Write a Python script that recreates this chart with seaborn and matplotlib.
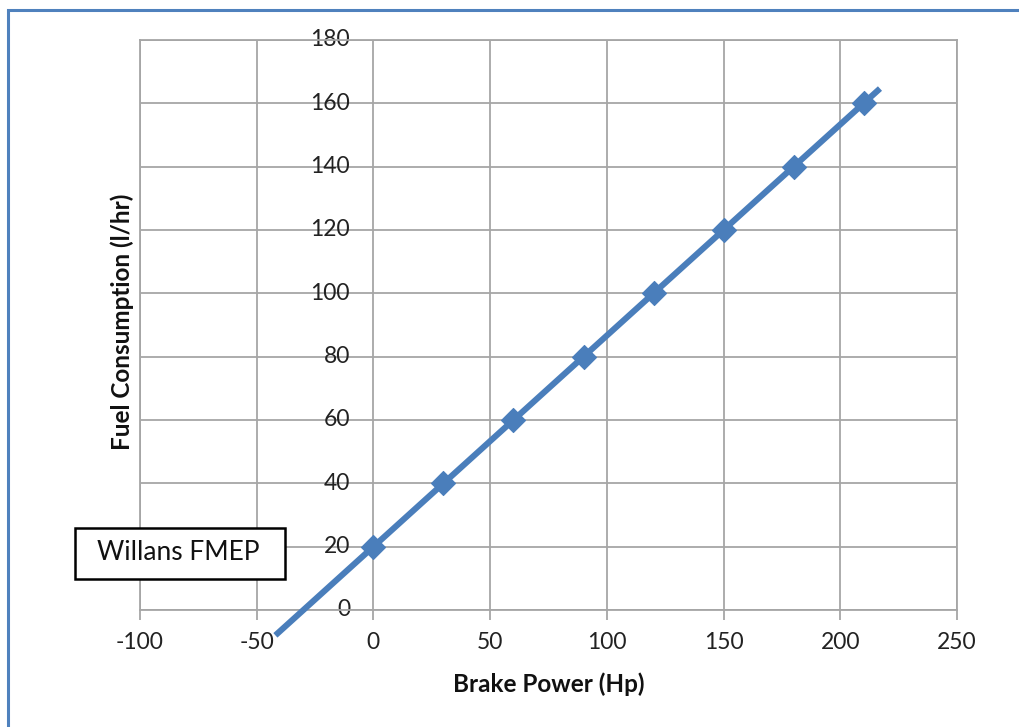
import numpy as np
import pandas as pd
import matplotlib
matplotlib.use("Agg")
import matplotlib.pyplot as plt
import matplotlib.patches as patches
import seaborn as sns

# ---- data ----
brake_power = [0, 30, 60, 90, 120, 150, 180, 210]
fuel_consumption = [20, 40, 60, 80, 100, 120, 140, 160]
forecast_backward = 42
forecast_forward = 7
x_ticks = [-100, -50, 0, 50, 100, 150, 200, 250]
y_ticks = [0, 20, 40, 60, 80, 100, 120, 140, 160, 180]
x_label = "Brake Power (Hp)"
y_label = "Fuel Consumption (l/hr)"
box_text = "Willans FMEP"

sns.set_theme(style="white")
plt.rcParams['font.family'] = ['Lato', 'DejaVu Sans']

BLUE = "#4A7EBB"
GRID = "#A6A6A6"
W, H = 1019, 727

fig = plt.figure(figsize=(10.19, 7.27), dpi=100)
ax = fig.add_axes([140/W, 1-610/H, (957-140)/W, (610-40)/H])

df = pd.DataFrame({"x": brake_power, "y": fuel_consumption})

# linear trendline (fit), extended by forecast
slope, intercept = np.polyfit(df["x"], df["y"], 1)
tx = np.array([min(brake_power) - forecast_backward, max(brake_power) + forecast_forward])
tdf = pd.DataFrame({"x": tx, "y": slope * tx + intercept})
sns.lineplot(data=tdf, x="x", y="y", ax=ax, color=BLUE, linewidth=4.4,
             solid_capstyle="butt", clip_on=False, zorder=3)

sns.scatterplot(data=df, x="x", y="y", ax=ax, marker="D", s=150, color=BLUE,
                edgecolor=BLUE, linewidth=0.8, zorder=4, clip_on=False)

ax.set_xlim(-100, 250)
ax.set_ylim(0, 180)
ax.set_xticks(x_ticks)
ax.set_yticks(y_ticks)
ax.set_xticklabels([str(v) for v in x_ticks])
ax.set_yticklabels([])

ax.grid(True, color=GRID, linewidth=1.3)
ax.set_axisbelow(True)
for side in ["top", "right", "left", "bottom"]:
    ax.spines[side].set_visible(True)
    ax.spines[side].set_color(GRID)
    ax.spines[side].set_linewidth(1.3)

ax.tick_params(axis="x", which="both", direction="out", length=7, width=1.3,
               color=GRID, labelsize=16.5, labelcolor="#222222", pad=9, bottom=True)
ax.tick_params(axis="y", left=False, labelleft=False)

# y tick labels placed beside the x=0 axis
for v in y_ticks:
    ax.text(-10, v, str(v), ha="right", va="center", fontsize=16.5, color="#222222",
            zorder=2)

ax.set_xlabel(x_label, fontsize=17.5, fontweight="bold", color="#111111", labelpad=14)
ax.set_ylabel("")
fig.text(122/W, 1-322/H, y_label, rotation=90, ha="center", va="center",
         fontsize=17.5, fontweight="bold", color="#111111")

# text box
fig.patches.append(patches.Rectangle((75/W, 1-579/H), 210/W, 51/H,
                                     transform=fig.transFigure, facecolor="white",
                                     edgecolor="black", linewidth=1.8, zorder=5))
fig.text(178/W, 1-553/H, box_text, ha="center", va="center", fontsize=19,
         color="#111111", zorder=6)

# outer chart border
fig.patches.append(patches.Rectangle((8/W, -0.05), 1.2, 1 - 10/H + 0.05,
                                     transform=fig.transFigure, fill=False,
                                     edgecolor="#4F81BD", linewidth=2.2))

fig.savefig("out.png", dpi=100)
